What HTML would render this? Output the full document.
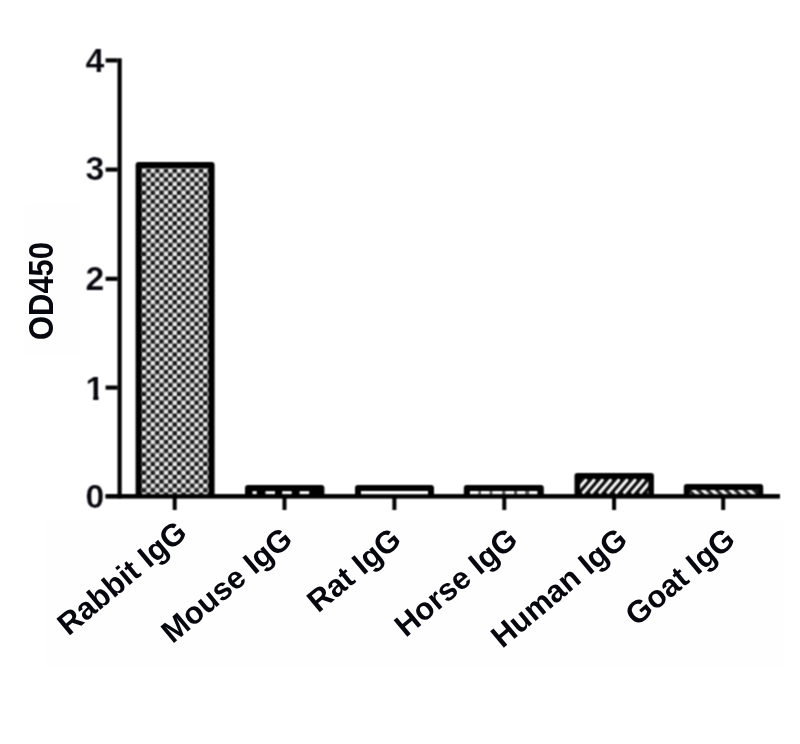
<!DOCTYPE html>
<html>
<head>
<meta charset="utf-8">
<title>OD450 chart</title>
<style>
html,body{margin:0;padding:0;background:#fff;}
body{width:800px;height:744px;overflow:hidden;}
svg{display:block;}
text{font-family:"Liberation Sans",Arial,sans-serif;font-weight:bold;fill:#07070f;}
</style>
</head>
<body>
<svg width="800" height="744" viewBox="0 0 800 744">
<defs>
<filter id="soft" color-interpolation-filters="sRGB" x="0" y="0" width="800" height="744" filterUnits="userSpaceOnUse">
<feConvolveMatrix order="3" kernelMatrix="1 2 1 2 4 2 1 2 1" divisor="16" edgeMode="duplicate" preserveAlpha="false"/>
</filter>
<pattern id="chk" x="141.9" y="168.6" width="8.75" height="8.75" patternUnits="userSpaceOnUse">
<rect width="8.75" height="8.75" fill="#171717"/>
<rect x="0" y="0" width="4.375" height="4.375" fill="#e9e9e9"/>
<rect x="4.375" y="4.375" width="4.375" height="4.375" fill="#e9e9e9"/>
</pattern>
<pattern id="bdiag" x="201.2" y="0" width="9.28" height="40" patternUnits="userSpaceOnUse" patternTransform="skewX(45)">
<rect width="9.28" height="40" fill="#2a2a2a"/>
<rect width="4.7" height="40" fill="#f2f2f2"/>
</pattern>
<clipPath id="one"><path d="M80 365H104V394.8H98.5V402H93.2V394.8H80Z"/></clipPath>
<clipPath id="hclip"><rect x="580.1" y="478.5" width="68.2" height="15.7"/></clipPath>
</defs>
<rect width="800" height="744" fill="#fff"/>
<rect x="25" y="202" width="56" height="152" fill="#fefefe"/>
<rect x="44" y="519" width="741" height="149" fill="#fefefe"/>
<g filter="url(#soft)">
<!-- axes -->
<g fill="#000">
<rect x="117.5" y="58.3" width="4.2" height="440.1"/>
<rect x="105.6" y="494.2" width="674.2" height="4.2"/>
<rect x="105.6" y="58.3" width="12" height="4.2"/>
<rect x="105.6" y="167.5" width="12" height="4.2"/>
<rect x="105.6" y="276.7" width="12" height="4.2"/>
<rect x="105.6" y="385.5" width="12" height="4.2"/>
<rect x="172.7" y="498" width="4" height="12"/>
<rect x="282.5" y="498" width="4" height="12"/>
<rect x="392.4" y="498" width="4" height="12"/>
<rect x="502.3" y="498" width="4" height="12"/>
<rect x="612.1" y="498" width="4" height="12"/>
<rect x="721.2" y="498" width="4" height="12"/>
</g>
<!-- bars -->
<rect x="138.6" y="165" width="73" height="330" fill="url(#chk)"/><path d="M138.6 497V165H211.6V497" fill="none" stroke="#000" stroke-width="6" stroke-linejoin="round"/>
<!-- mouse -->
<rect x="248" y="488" width="73.4" height="7" fill="#000"/><path d="M248 497V488H321.4V497" fill="none" stroke="#000" stroke-width="6" stroke-linejoin="round"/>
<g fill="#fff">
<rect x="252.5" y="491.2" width="4.2" height="3.4"/>
<rect x="265.5" y="491.2" width="9.5" height="3.4"/>
<rect x="282.2" y="491.2" width="9.5" height="3.4"/>
<rect x="299.6" y="491.2" width="9.6" height="3.4"/>
</g>
<!-- rat -->
<rect x="358" y="488" width="73" height="7" fill="#fff"/><path d="M358 497V488H431V497" fill="none" stroke="#000" stroke-width="6" stroke-linejoin="round"/>
<!-- horse -->
<rect x="466.8" y="488" width="74" height="7" fill="#555"/><path d="M466.8 497V488H540.8V497" fill="none" stroke="#000" stroke-width="6" stroke-linejoin="round"/>
<g fill="#fff">
<rect x="470" y="491.1" width="8.4" height="3.5"/>
<rect x="481" y="491.1" width="8.6" height="3.5"/>
<rect x="492.4" y="491.1" width="9.8" height="3.5"/>
<rect x="505.4" y="491.1" width="8.6" height="3.5"/>
<rect x="517.2" y="491.1" width="8" height="3.5"/>
<rect x="529.2" y="491.1" width="8" height="3.5"/>
</g>
<!-- human -->
<rect x="577.3" y="475.9" width="73.8" height="19.1" fill="#0a0a0a"/><path d="M577.3 497V475.9H651.1V497" fill="none" stroke="#000" stroke-width="5.6" stroke-linejoin="round"/>
<g clip-path="url(#hclip)" stroke="#f6f6f6" stroke-width="3.1" stroke-linecap="round">
<line x1="575.2" y1="492.4" x2="585.8" y2="480.2"/>
<line x1="583.4" y1="492.4" x2="594.0" y2="480.2"/>
<line x1="591.6" y1="492.4" x2="602.2" y2="480.2"/>
<line x1="599.8" y1="492.4" x2="610.4" y2="480.2"/>
<line x1="608.0" y1="492.4" x2="618.6" y2="480.2"/>
<line x1="616.2" y1="492.4" x2="626.8" y2="480.2"/>
<line x1="624.4" y1="492.4" x2="635.0" y2="480.2"/>
<line x1="632.6" y1="492.4" x2="643.2" y2="480.2"/>
<line x1="640.8" y1="492.4" x2="651.4" y2="480.2"/>
<line x1="649.0" y1="492.4" x2="659.6" y2="480.2"/>
</g>
<!-- goat -->
<rect x="686.8" y="487" width="73.4" height="8" fill="url(#bdiag)"/><path d="M686.8 497V487H760.2V497" fill="none" stroke="#000" stroke-width="6" stroke-linejoin="round"/><rect x="756" y="489" width="3" height="6" fill="#111"/>
<rect x="105.6" y="494.2" width="674.2" height="4.2" fill="#000"/>
<!-- y tick labels -->
<g font-size="33.8" text-anchor="end" stroke="#fff" stroke-width="0.2">
<text x="104.3" y="71.9">4</text>
<text x="104.3" y="180.4">3</text>
<text x="104.3" y="290">2</text>
<text x="104.3" y="399.5" clip-path="url(#one)">1</text>
<text x="104.3" y="507.5">0</text>
</g>
</g>
<g>
<text font-size="32" text-anchor="middle" transform="translate(53,291) rotate(-90) scale(0.965,1.07)">OD450</text>
<g font-size="31.1" text-anchor="end">
<text transform="translate(188.8,535.5) rotate(-40)">Rabbit IgG</text>
<text transform="translate(294.2,542.0) rotate(-40)">Mouse IgG</text>
<text transform="translate(403.0,542.5) rotate(-40)">Rat IgG</text>
<text transform="translate(519.5,542.5) rotate(-40)">Horse IgG</text>
<text transform="translate(629.2,542.5) rotate(-40)">Human IgG</text>
<text transform="translate(737.0,542.5) rotate(-40)">Goat IgG</text>
</g>
</g>
</svg>
</body>
</html>
